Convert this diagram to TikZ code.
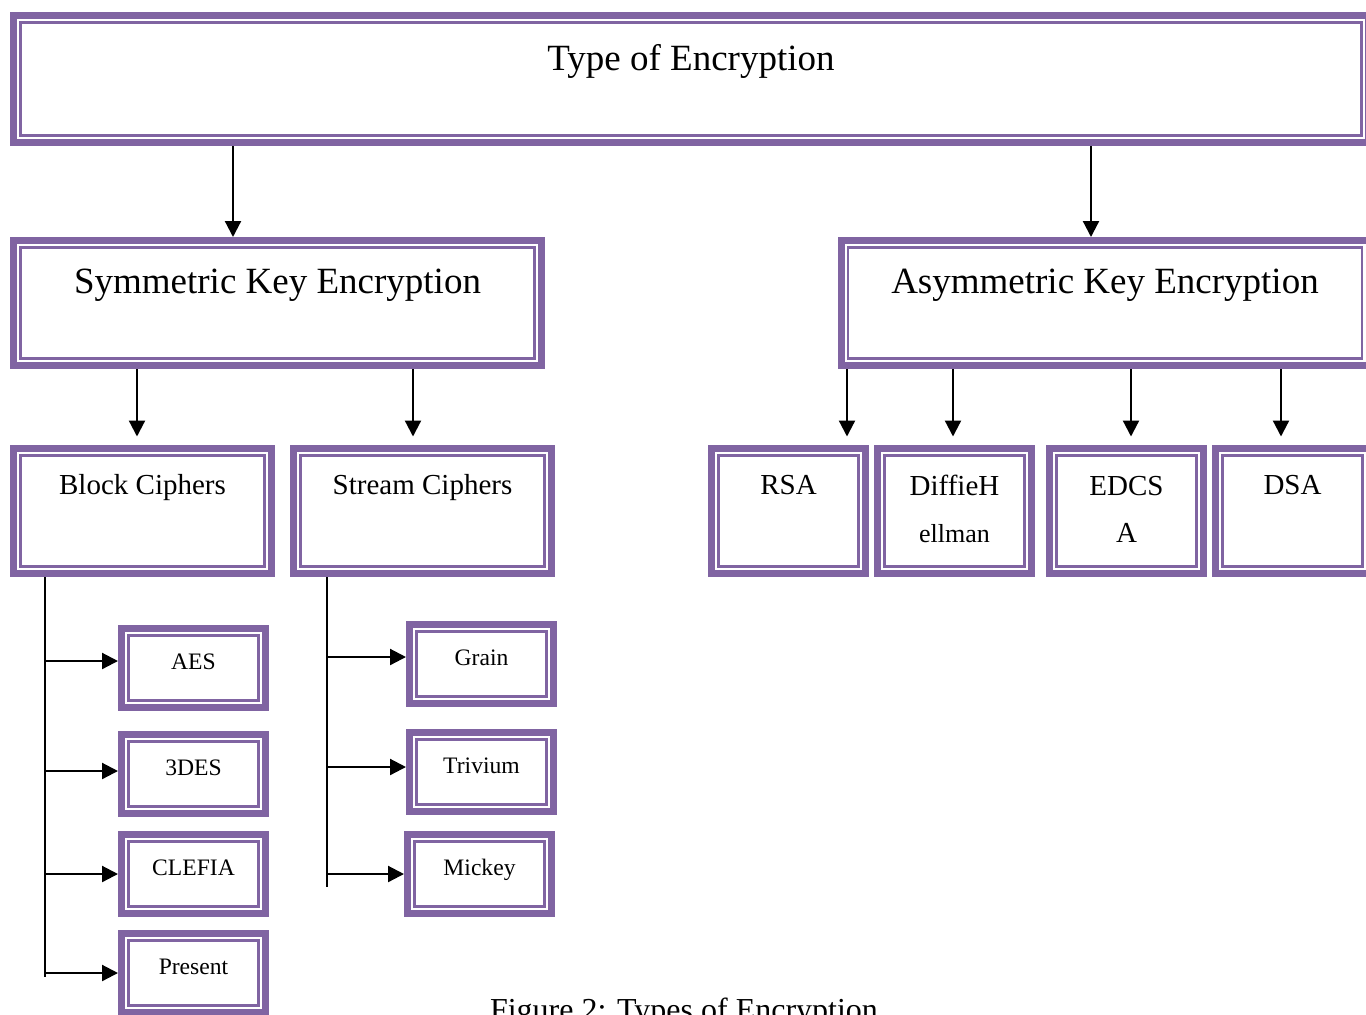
\documentclass[tikz,border=0pt]{standalone}
\usepackage{fontspec}
\setmainfont{Liberation Serif}
\usetikzlibrary{positioning, arrows.meta}
\definecolor{encPurple}{RGB}{128, 100, 162}

\begin{document}
\begin{tikzpicture}[x=0.5pt, y=-0.5pt,
          frame/.style={draw=encPurple, line width=3.5pt, inner sep=0pt, align=center,
                        path picture={\draw[encPurple, line width=1.2pt]
                          ([shift={(3.5pt,3.5pt)}]path picture bounding box.south west) rectangle
                          ([shift={(-3.5pt,-3.5pt)}]path picture bounding box.north east);}},
          head/.style={frame, minimum width=264pt, minimum height=62.5pt,
                       text height=26.25pt, text depth=36.25pt,
                       font=\fontsize{18.5}{22}\selectfont},
          sub/.style={frame, minimum width=129pt, minimum height=62.5pt,
                      text height=23pt, text depth=39.5pt,
                      font=\fontsize{14.5}{23.5}\selectfont},
          alg/.style={sub, minimum width=77pt},
          twoline/.style={text height=47pt, text depth=15.5pt},
          leaf/.style={frame, minimum width=72pt, minimum height=39.5pt,
                       text height=20.25pt, text depth=19.25pt,
                       font=\fontsize{11.8}{14}\selectfont},
          arr/.style={-{Triangle[length=8pt, width=8pt]}, line width=1.1pt},
          trunk/.style={line width=1.1pt}]
        \useasboundingbox (0,0) rectangle (1366,1014);
        \clip (0,0) rectangle (1366,1014);

        \node[head, minimum width=677.5pt, minimum height=63.5pt, text height=27.25pt]
             (top) at (691,79) {Type of Encryption};
        \node[head] (sym)  at (277.5,303) {Symmetric Key Encryption};
        \node[head] (asym) at (1105,303)  {Asymmetric Key Encryption};

        \node[sub] (blk) at (142.5,511) {Block Ciphers};
        \node[sub] (str) at (422.5,511) {Stream Ciphers};
        \node[alg] (rsa) at (788.5,511)  {RSA};
        \node[alg, twoline] (dh)  at (954.5,511)
             {DiffieH\\{\fontsize{13}{23.5}\selectfont ellman}};
        \node[alg, twoline] (ecd) at (1126.5,511) {EDCS\\A};
        \node[alg] (dsa) at (1292.5,511) {DSA};

        \node[leaf] (aes)  at (193.5,668) {AES};
        \node[leaf] (tdes) at (193.5,774) {3DES};
        \node[leaf] (clf)  at (193.5,874) {CLEFIA};
        \node[leaf] (pres) at (193.5,973) {Present};
        \node[leaf] (grn)  at (481.5,664) {Grain};
        \node[leaf] (triv) at (481.5,772) {Trivium};
        \node[leaf] (mick) at (479.5,874) {Mickey};

        \node[font=\fontsize{16}{19}\selectfont, anchor=base] (cap) at (684,1020)
             {Figure 2: Types of Encryption};

        % x positions of the down arrows
        \coordinate (symIn)  at (233,0);
        \coordinate (asymIn) at (1091,0);
        \coordinate (blkIn)  at (137,0);
        \coordinate (strIn)  at (413,0);
        \coordinate (rsaIn)  at (847,0);
        \coordinate (dhIn)   at (953,0);
        \coordinate (ecdIn)  at (1131,0);
        \coordinate (dsaIn)  at (1281,0);

        \draw[arr] (top.south -| symIn)  -- (sym.north -| symIn);
        \draw[arr] (top.south -| asymIn) -- (asym.north -| asymIn);
        \draw[arr, shorten >=4.25pt] (sym.south -| blkIn)  -- (blk.north -| blkIn);
        \draw[arr, shorten >=4.25pt] (sym.south -| strIn)  -- (str.north -| strIn);
        \draw[arr, shorten >=4.25pt] (asym.south -| rsaIn) -- (rsa.north -| rsaIn);
        \draw[arr, shorten >=4.25pt] (asym.south -| dhIn)  -- (dh.north -| dhIn);
        \draw[arr, shorten >=4.25pt] (asym.south -| ecdIn) -- (ecd.north -| ecdIn);
        \draw[arr, shorten >=4.25pt] (asym.south -| dsaIn) -- (dsa.north -| dsaIn);

        % trunks under the cipher boxes
        \coordinate (blkEnd) at (45,977);
        \coordinate (strEnd) at (327,887);
        \draw[trunk] (blk.south -| blkEnd) -- (blkEnd);
        \draw[trunk] (str.south -| strEnd) -- (strEnd);

        \draw[arr] ([yshift=3.5pt]aes.west -| blkEnd)  -- ([yshift=3.5pt]aes.west);
        \draw[arr] ([yshift=1.5pt]tdes.west -| blkEnd) -- ([yshift=1.5pt]tdes.west);
        \draw[arr] (clf.west -| blkEnd)  -- (clf.west);
        \draw[arr] (pres.west -| blkEnd) -- (pres.west);
        \draw[arr] ([yshift=3.5pt]grn.west -| strEnd)  -- ([yshift=3.5pt]grn.west);
        \draw[arr] ([yshift=2.5pt]triv.west -| strEnd) -- ([yshift=2.5pt]triv.west);
        \draw[arr] (mick.west -| strEnd) -- (mick.west);
      \end{tikzpicture}
\end{document}
